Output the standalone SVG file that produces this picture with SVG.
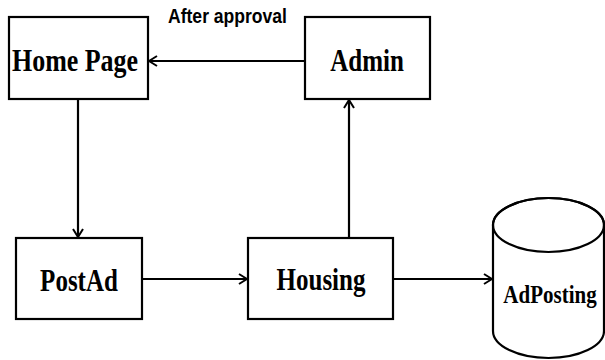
<svg xmlns="http://www.w3.org/2000/svg" width="605" height="360" viewBox="0 0 605 360">
<defs>
<style>
.box{fill:#fff;stroke:#000;stroke-width:2.2}
.lbl{font-family:"Liberation Serif","Times New Roman",serif;font-weight:bold;font-size:25px;fill:#000;text-anchor:middle}
.cap{font-family:"Liberation Sans",Arial,sans-serif;font-weight:bold;font-size:17px;fill:#000}
.edge{stroke:#000;stroke-width:2.2;fill:none;marker-end:url(#arr)}
</style>
<marker id="arr" viewBox="0 0 10 12" refX="9" refY="6" markerWidth="10" markerHeight="12" markerUnits="userSpaceOnUse" orient="auto">
<path d="M1,1 L9,6 L1,11" fill="none" stroke="#000" stroke-width="2"/>
</marker>
</defs>
<rect width="605" height="360" fill="#fff"/>
<g id="connectors">
<line class="edge" x1="305" y1="61" x2="149" y2="61"/>
<line class="edge" x1="78" y1="99" x2="78" y2="237"/>
<line class="edge" x1="142" y1="279" x2="247" y2="279"/>
<line class="edge" x1="349" y1="238" x2="349" y2="100"/>
<line class="edge" x1="393" y1="279" x2="492" y2="279"/>
<text class="cap" transform="translate(168,23) scale(1,1.15)" textLength="119" lengthAdjust="spacingAndGlyphs">After approval</text>
</g>
<g id="homepage">
<rect class="box" x="9" y="17" width="139" height="82"/>
<text class="lbl" transform="translate(75,71) scale(1,1.27)" textLength="126" lengthAdjust="spacingAndGlyphs">Home Page</text>
</g>
<g id="admin">
<rect class="box" x="305" y="17" width="125" height="82"/>
<text class="lbl" transform="translate(367,71) scale(1,1.27)">Admin</text>
</g>
<g id="postad">
<rect class="box" x="16" y="238" width="126" height="81"/>
<text class="lbl" transform="translate(79,291) scale(1,1.27)">PostAd</text>
</g>
<g id="housing">
<rect class="box" x="248" y="238" width="145" height="81"/>
<text class="lbl" transform="translate(321,290) scale(1,1.27)">Housing</text>
</g>
<g id="adposting">
<path class="box" d="M493,225 L493,331 A55.5,27 0 0 0 604,331 L604,225 A55.5,27 0 0 0 493,225 Z"/>
<ellipse cx="548.5" cy="225" rx="55.5" ry="27" fill="none" stroke="#000" stroke-width="2.2"/>
<text class="lbl" style="font-size:21px" transform="translate(550,303) scale(1,1.15)">AdPosting</text>
</g>
</svg>
